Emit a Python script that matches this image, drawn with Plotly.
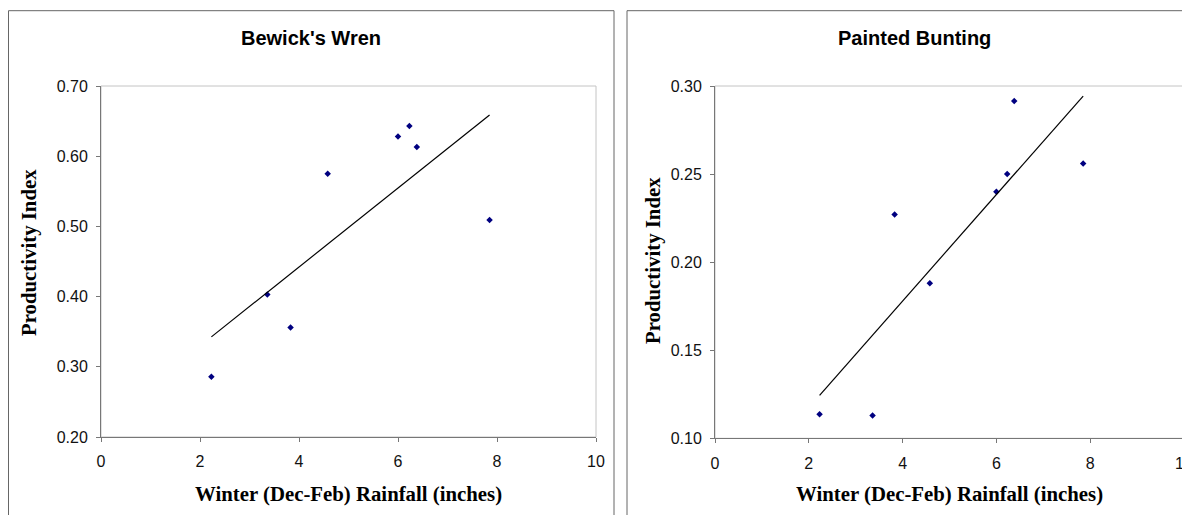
import numpy as np
import plotly.graph_objects as go

# page body has an 8px margin; figure is sized/offset to compensate
OFF = 8
W, H = 1190 - OFF, 515 - OFF

# ---- data ----
rainfall = [2.23, 3.36, 3.83, 4.58, 6.00, 6.23, 6.38, 7.85]
wren_index = [0.286, 0.403, 0.356, 0.575, 0.628, 0.643, 0.613, 0.509]
bunting_index = [0.1136, 0.113, 0.227, 0.188, 0.240, 0.250, 0.2915, 0.256]

titles = ["Bewick's Wren", "Painted Bunting"]
x_title = "Winter (Dec-Feb) Rainfall (inches)"
y_title = "Productivity Index"
x_ticks = [0, 2, 4, 6, 8, 10]
wren_yticks = [0.20, 0.30, 0.40, 0.50, 0.60, 0.70]
bunting_yticks = [0.10, 0.15, 0.20, 0.25, 0.30]


def px_x(p):
    return (p - OFF) / W


def px_y(p):
    return 1 - (p - OFF) / H


# plot areas in screen pixels (left, right, top, bottom)
areas = [(101, 596, 86, 437), (715, 1184, 86, 438.3)]
boxes = [(8.5, 614, 10.7), (627, 1200, 10.7)]

fig = go.Figure()

series = [wren_index, bunting_index]
for i, ys in enumerate(series):
    xa = "x" if i == 0 else "x2"
    ya = "y" if i == 0 else "y2"
    fig.add_trace(go.Scatter(
        x=rainfall, y=ys, mode="markers", xaxis=xa, yaxis=ya,
        marker=dict(symbol="diamond", size=5, color="#000080"),
        showlegend=False, hoverinfo="x+y"))
    slope, icpt = np.polyfit(rainfall, ys, 1)
    xs = [min(rainfall), max(rainfall)]
    fig.add_trace(go.Scatter(
        x=xs, y=[slope * v + icpt for v in xs], mode="lines",
        xaxis=xa, yaxis=ya, line=dict(color="black", width=1.2),
        showlegend=False, hoverinfo="skip"))

tick_font = dict(family="Liberation Sans, Arial, sans-serif", size=16, color="#111")
axis_common = dict(
    showline=True, linecolor="#777", linewidth=1, mirror=False,
    ticks="outside", ticklen=4, tickcolor="#777", tickwidth=1,
    showgrid=False, zeroline=False, tickfont=tick_font, fixedrange=True,
    automargin=False, ticklabeloverflow="allow",
)

yrngs = [(0.20, 0.70), (0.10, 0.30)]
yticks = [wren_yticks, bunting_yticks]
layout_axes = {}
for i, (l, r, t, b) in enumerate(areas):
    sx = "" if i == 0 else "2"
    layout_axes[f"xaxis{sx}"] = dict(
        axis_common, domain=[px_x(l), px_x(r)], range=[0, 10],
        tickvals=x_ticks, ticktext=[str(v) for v in x_ticks],
        anchor=f"y{sx}", ticklabelstandoff=6)
    layout_axes[f"yaxis{sx}"] = dict(
        axis_common, domain=[px_y(b), px_y(t)], range=list(yrngs[i]),
        tickvals=yticks[i], ticktext=[f"{v:.2f}" for v in yticks[i]],
        anchor=f"x{sx}", ticklabelstandoff=5)

shapes = []
for (l, r, t) in boxes:
    shapes.append(dict(type="rect", xref="paper", yref="paper",
                       x0=px_x(l), x1=px_x(r), y0=px_y(t), y1=-0.1,
                       line=dict(color="#666", width=1), fillcolor="rgba(0,0,0,0)",
                       layer="below"))
for (l, r, t, b) in areas:
    shapes.append(dict(type="rect", xref="paper", yref="paper",
                       x0=px_x(l), x1=px_x(r), y0=px_y(b), y1=px_y(t),
                       line=dict(color="#c4c4c4", width=1), fillcolor="rgba(0,0,0,0)",
                       layer="below"))

annotations = []
title_pos = [(311, 38), (914, 38)]
ytitle_pos = [(29, 253), (653, 261)]
xtitle_pos = [(348, 494), (950, 494)]
for i in range(2):
    annotations.append(dict(
        text=f"<b>{titles[i]}</b>", xref="paper", yref="paper",
        x=px_x(title_pos[i][0]), y=px_y(title_pos[i][1]),
        xanchor="center", yanchor="middle", showarrow=False,
        font=dict(family="Liberation Sans, Arial, sans-serif", size=20, color="black")))
    annotations.append(dict(
        text=f"<b>{y_title}</b>", xref="paper", yref="paper",
        x=px_x(ytitle_pos[i][0]), y=px_y(ytitle_pos[i][1]),
        xanchor="center", yanchor="middle", showarrow=False, textangle=-90,
        font=dict(family="Liberation Serif, Times New Roman, serif", size=20.8, color="black")))
    annotations.append(dict(
        text=f"<b>{x_title}</b>", xref="paper", yref="paper",
        x=px_x(xtitle_pos[i][0]), y=px_y(xtitle_pos[i][1]),
        xanchor="center", yanchor="middle", showarrow=False,
        font=dict(family="Liberation Serif, Times New Roman, serif", size=20.8, color="black")))

fig.update_layout(
    width=W, height=H, margin=dict(l=0, r=0, t=0, b=0, autoexpand=False),
    paper_bgcolor="white", plot_bgcolor="white",
    shapes=shapes, annotations=annotations, **layout_axes)

fig.write_html("out.html", config={"displayModeBar": False})
